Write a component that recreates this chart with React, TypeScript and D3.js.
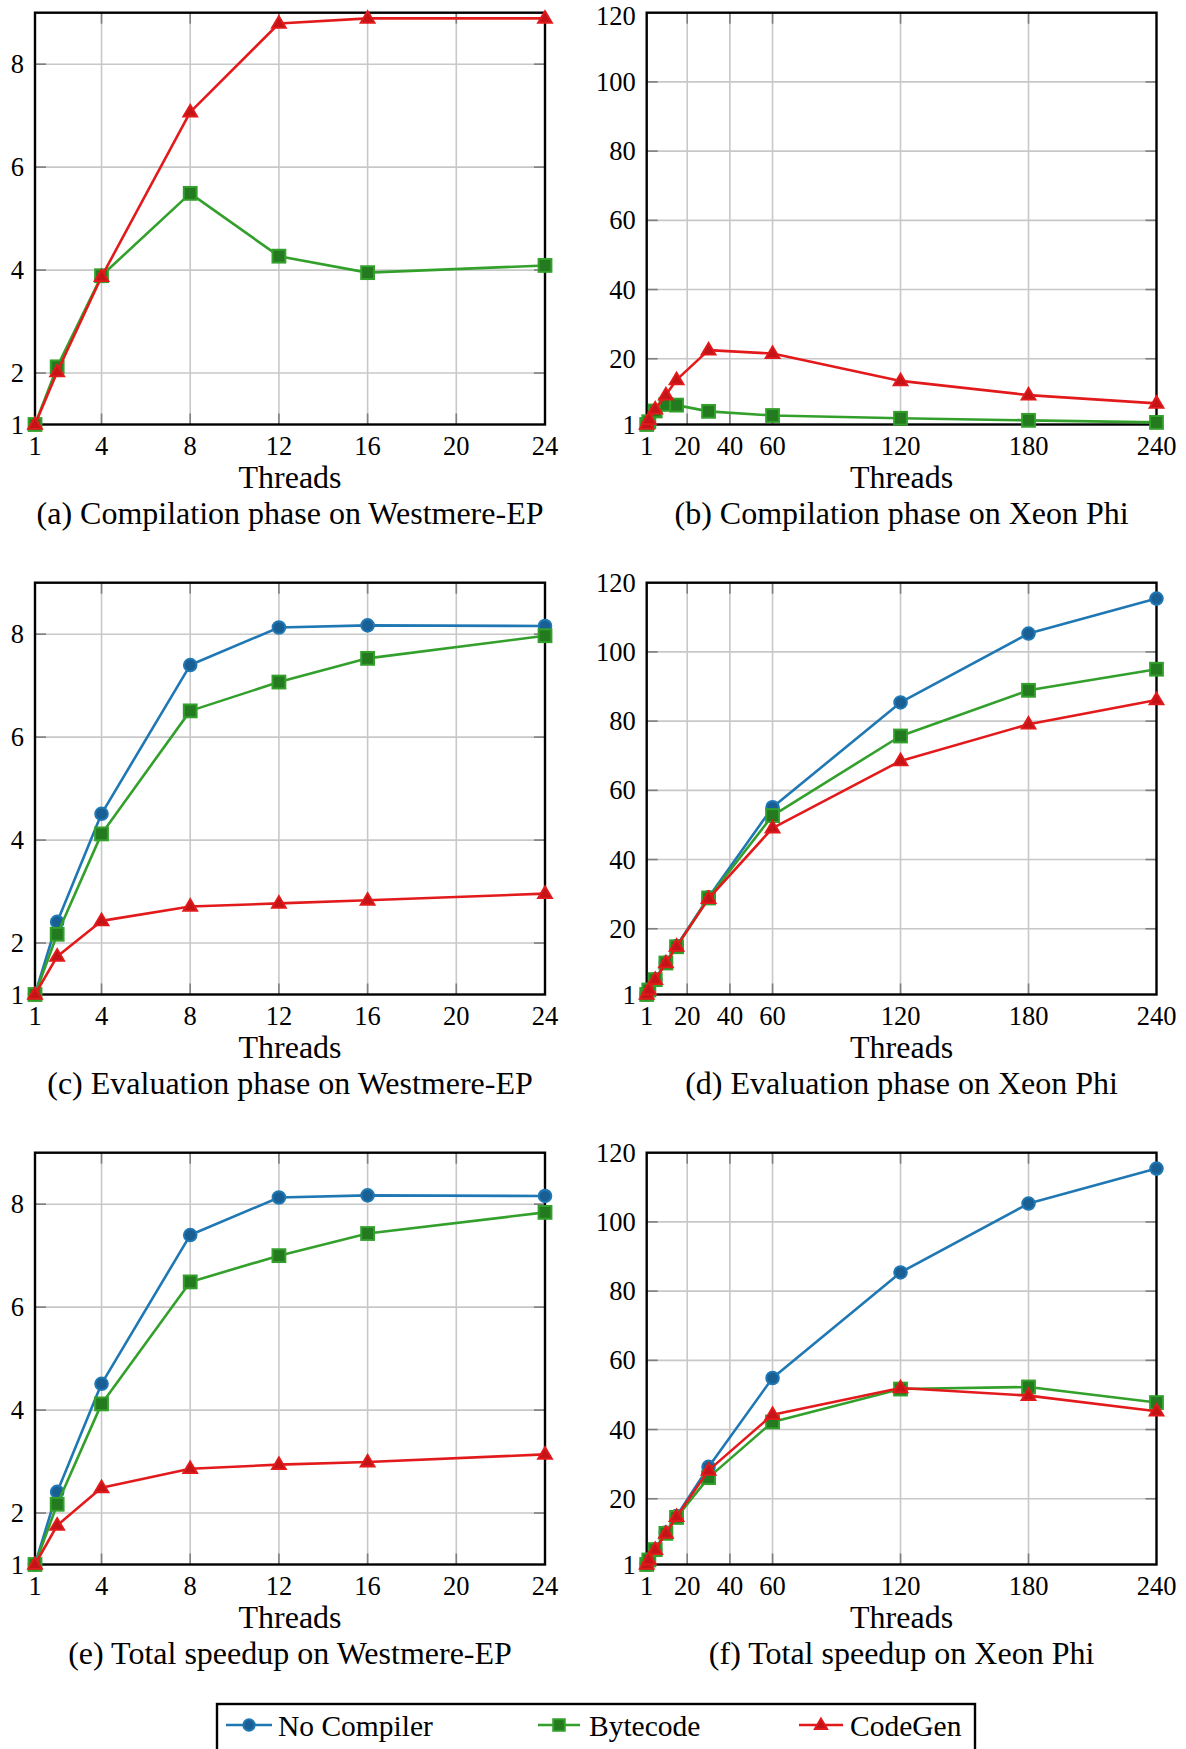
import React from "react";
import * as d3 from "d3";

// ---------- data ----------
const westmereThreads = [1, 2, 4, 8, 12, 16, 24];
const xeonThreads = [1, 2, 5, 10, 15, 30, 60, 120, 180, 240];

const westXTicks = [1, 4, 8, 12, 16, 20, 24];
const westXGrid = [4, 8, 12, 16, 20];
const westYTicks = [1, 2, 4, 6, 8];
const westYGrid = [2, 4, 6, 8];
const xeonXTicks = [1, 20, 40, 60, 120, 180, 240];
const xeonXGrid = [20, 40, 60, 120, 180];
const xeonYTicks = [1, 20, 40, 60, 80, 100, 120];
const xeonYGrid = [20, 40, 60, 80, 100];

const compWestBytecode = [1, 2.12, 3.89, 5.49, 4.27, 3.95, 4.09];
const compWestCodeGen = [1, 2.02, 3.87, 7.07, 8.79, 8.89, 8.89];
const compXeonBytecode = [1, 1.8, 4.9, 6.8, 6.6, 4.8, 3.6, 2.8, 2.2, 1.6];
const compXeonCodeGen = [1, 2.4, 5.4, 9.5, 13.9, 22.5, 21.5, 13.6, 9.5, 7.1];

const evalWestNoComp = [1, 2.41, 4.51, 7.4, 8.13, 8.17, 8.16];
const evalWestBytecode = [1, 2.17, 4.12, 6.51, 7.07, 7.53, 7.97];
const evalWestCodeGen = [1, 1.74, 2.43, 2.71, 2.77, 2.83, 2.96];
const evalXeonNoComp = [1, 2.4, 5.4, 10.2, 15, 29.1, 55.1, 85.4, 105.3, 115.4];
const evalXeonBytecode = [1, 2.3, 5.3, 10.1, 14.8, 28.9, 52.7, 75.7, 88.9, 95.0];
const evalXeonCodeGen = [1, 2.3, 5.3, 10.1, 14.9, 28.7, 49.1, 68.5, 79.1, 86.1];

const totalWestNoComp = [1, 2.41, 4.51, 7.4, 8.13, 8.17, 8.16];
const totalWestBytecode = [1, 2.17, 4.12, 6.49, 7.0, 7.43, 7.84];
const totalWestCodeGen = [1, 1.76, 2.49, 2.86, 2.94, 2.99, 3.14];
const totalXeonNoComp = [1, 2.4, 5.4, 10.2, 15, 29.2, 54.9, 85.4, 105.3, 115.4];
const totalXeonBytecode = [1, 2.3, 5.3, 10, 14.6, 26.1, 42.2, 51.7, 52.3, 47.8];
const totalXeonCodeGen = [1, 2.3, 5.3, 10, 14.8, 28.2, 44.3, 52.0, 49.8, 45.3];

const seriesNames = ["No Compiler", "Bytecode", "CodeGen"];
const captions = [
  "(a) Compilation phase on Westmere-EP",
  "(b) Compilation phase on Xeon Phi",
  "(c) Evaluation phase on Westmere-EP",
  "(d) Evaluation phase on Xeon Phi",
  "(e) Total speedup on Westmere-EP",
  "(f) Total speedup on Xeon Phi",
];

// ---------- style ----------
const COLORS: Record<string, string> = {
  "No Compiler": "#1f78b4",
  Bytecode: "#33a02c",
  CodeGen: "#e31a1c",
};
const FILLS: Record<string, string> = {
  "No Compiler": "#1a5f94",
  Bytecode: "#237a1f",
  CodeGen: "#c41417",
};
const FONT = "'Liberation Serif', 'Times New Roman', serif";

const COL_X = [
  [35, 545],
  [646.7, 1156.5],
];
const ROW_TOP = 12.7;
const ROW_BOTTOM = 424.5;
const ROW_STEP = 570;

type Panel = {
  xeon: boolean;
  series: { name: string; values: number[] }[];
};

const panels: Panel[] = [
  {
    xeon: false,
    series: [
      { name: "Bytecode", values: compWestBytecode },
      { name: "CodeGen", values: compWestCodeGen },
    ],
  },
  {
    xeon: true,
    series: [
      { name: "Bytecode", values: compXeonBytecode },
      { name: "CodeGen", values: compXeonCodeGen },
    ],
  },
  {
    xeon: false,
    series: [
      { name: "No Compiler", values: evalWestNoComp },
      { name: "Bytecode", values: evalWestBytecode },
      { name: "CodeGen", values: evalWestCodeGen },
    ],
  },
  {
    xeon: true,
    series: [
      { name: "No Compiler", values: evalXeonNoComp },
      { name: "Bytecode", values: evalXeonBytecode },
      { name: "CodeGen", values: evalXeonCodeGen },
    ],
  },
  {
    xeon: false,
    series: [
      { name: "No Compiler", values: totalWestNoComp },
      { name: "Bytecode", values: totalWestBytecode },
      { name: "CodeGen", values: totalWestCodeGen },
    ],
  },
  {
    xeon: true,
    series: [
      { name: "No Compiler", values: totalXeonNoComp },
      { name: "Bytecode", values: totalXeonBytecode },
      { name: "CodeGen", values: totalXeonCodeGen },
    ],
  },
];

function Marker({ name, x, y, s = 1 }: { name: string; x: number; y: number; s?: number }) {
  const stroke = COLORS[name];
  const fill = FILLS[name];
  if (name === "No Compiler") {
    return <circle cx={x} cy={y} r={6.3 * s} fill={fill} stroke={stroke} strokeWidth={2} />;
  }
  if (name === "Bytecode") {
    const h = 6.4 * s;
    return <rect x={x - h} y={y - h} width={2 * h} height={2 * h} fill={fill} stroke={stroke} strokeWidth={2} />;
  }
  const r = 7.4 * s;
  const pts = [
    [x, y - r],
    [x + r * 0.95, y + r * 0.6],
    [x - r * 0.95, y + r * 0.6],
  ]
    .map((p) => p.join(","))
    .join(" ");
  return <polygon points={pts} fill={fill} stroke={stroke} strokeWidth={1.8} strokeLinejoin="miter" />;
}

function PanelView({ panel, idx }: { panel: Panel; idx: number }) {
  const col = idx % 2;
  const row = Math.floor(idx / 2);
  const [left, right] = COL_X[col];
  const top = ROW_TOP + row * ROW_STEP;
  const bottom = ROW_BOTTOM + row * ROW_STEP;
  const threads = panel.xeon ? xeonThreads : westmereThreads;
  const x = d3.scaleLinear().domain(panel.xeon ? [1, 240] : [1, 24]).range([left, right]);
  const y = d3.scaleLinear().domain(panel.xeon ? [1, 120] : [1, 9]).range([bottom, top]);
  const xTicks = panel.xeon ? xeonXTicks : westXTicks;
  const xGrid = panel.xeon ? xeonXGrid : westXGrid;
  const yTicks = panel.xeon ? xeonYTicks : westYTicks;
  const yGrid = panel.xeon ? xeonYGrid : westYGrid;
  const line = d3
    .line<number>()
    .x((_, i) => x(threads[i]))
    .y((v) => y(v));
  const cx = (left + right) / 2;
  const tl = 11;

  return (
    <g>
      {xGrid.map((t) => (
        <line key={"gx" + t} x1={x(t)} x2={x(t)} y1={top} y2={bottom} stroke="#c8c8c8" strokeWidth={1.6} />
      ))}
      {yGrid.map((t) => (
        <line key={"gy" + t} x1={left} x2={right} y1={y(t)} y2={y(t)} stroke="#c8c8c8" strokeWidth={1.6} />
      ))}
      {xGrid.map((t) => (
        <g key={"tx" + t}>
          <line x1={x(t)} x2={x(t)} y1={bottom} y2={bottom - tl} stroke="#7f7f7f" strokeWidth={1.6} />
          <line x1={x(t)} x2={x(t)} y1={top} y2={top + tl} stroke="#7f7f7f" strokeWidth={1.6} />
        </g>
      ))}
      {yGrid.map((t) => (
        <g key={"ty" + t}>
          <line x1={left} x2={left + tl} y1={y(t)} y2={y(t)} stroke="#7f7f7f" strokeWidth={1.6} />
          <line x1={right} x2={right - tl} y1={y(t)} y2={y(t)} stroke="#7f7f7f" strokeWidth={1.6} />
        </g>
      ))}
      <rect x={left} y={top} width={right - left} height={bottom - top} fill="none" stroke="#000" strokeWidth={2.4} />
      {xTicks.map((t) => (
        <text key={"lx" + t} x={x(t)} y={bottom + 30.5} textAnchor="middle" fontSize={26.5} fontFamily={FONT} fill="#000">
          {t}
        </text>
      ))}
      {yTicks.map((t) => (
        <text
          key={"ly" + t}
          x={left - 11}
          y={Math.max(y(t) + 9, 24.5)}
          textAnchor="end"
          fontSize={26.5}
          fontFamily={FONT}
          fill="#000"
        >
          {t}
        </text>
      ))}
      <text x={cx} y={bottom + 63.5} textAnchor="middle" fontSize={32} fontFamily={FONT} fill="#000">
        Threads
      </text>
      <text x={cx} y={bottom + 99} textAnchor="middle" fontSize={32} fontFamily={FONT} fill="#000">
        {captions[idx]}
      </text>
      {panel.series.map((s) => (
        <g key={s.name}>
          <path d={line(s.values) || ""} fill="none" stroke={COLORS[s.name]} strokeWidth={2.6} strokeLinejoin="round" />
          {s.values.map((v, i) => (
            <Marker key={i} name={s.name} x={x(threads[i])} y={y(v)} />
          ))}
        </g>
      ))}
    </g>
  );
}

function Legend() {
  const entries = [
    { name: seriesNames[0], x1: 226, x2: 272, tx: 278 },
    { name: seriesNames[1], x1: 538, x2: 580, tx: 589 },
    { name: seriesNames[2], x1: 799, x2: 843, tx: 850 },
  ];
  const ly = 1725;
  return (
    <g>
      <rect x={217} y={1704} width={758} height={48} fill="#fff" stroke="#000" strokeWidth={2.4} />
      {entries.map((e) => (
        <g key={e.name}>
          <line x1={e.x1} x2={e.x2} y1={ly} y2={ly} stroke={COLORS[e.name]} strokeWidth={2.6} />
          <Marker name={e.name} x={(e.x1 + e.x2) / 2} y={ly} s={0.9} />
          <text x={e.tx} y={ly + 10.5} fontSize={29.5} fontFamily={FONT} fill="#000">
            {e.name}
          </text>
        </g>
      ))}
    </g>
  );
}

export default function App() {
  return (
    <svg
      width={1186}
      height={1749}
      viewBox="0 0 1186 1749"
      style={{ position: "absolute", left: 0, top: 0, background: "#fff" }}
    >
      <rect x={0} y={0} width={1186} height={1749} fill="#fff" />
      {panels.map((p, i) => (
        <PanelView key={i} panel={p} idx={i} />
      ))}
      <Legend />
    </svg>
  );
}
